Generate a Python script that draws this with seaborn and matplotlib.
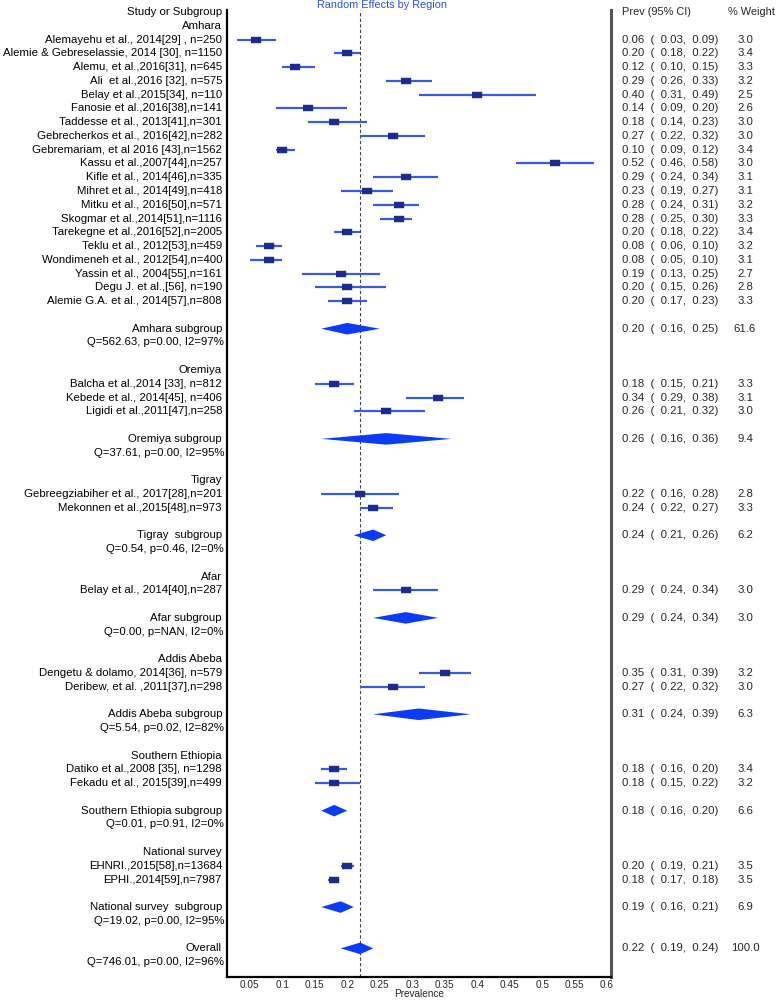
import numpy as np
import pandas as pd
import seaborn as sns
import matplotlib
matplotlib.use("Agg")
from matplotlib import pyplot as plt
from matplotlib import transforms

# ---- data ----
regions = ["Amhara", "Oremiya", "Tigray", "Afar", "Addis Abeba",
           "Southern Ethiopia", "National survey"]

study_region = (["Amhara"] * 20 + ["Oremiya"] * 3 + ["Tigray"] * 2 + ["Afar"]
                + ["Addis Abeba"] * 2 + ["Southern Ethiopia"] * 2 + ["National survey"] * 2)
study_label = [
    "Alemayehu et al., 2014[29] , n=250",
    "Alemie & Gebreselassie, 2014 [30], n=1150",
    "Alemu, et al.,2016[31], n=645",
    "Ali  et al.,2016 [32], n=575",
    "Belay et al.,2015[34], n=110",
    "Fanosie et al.,2016[38],n=141",
    "Taddesse et al., 2013[41],n=301",
    "Gebrecherkos et al., 2016[42],n=282",
    "Gebremariam, et al 2016 [43],n=1562",
    "Kassu et al.,2007[44],n=257",
    "Kifle et al., 2014[46],n=335",
    "Mihret et al., 2014[49],n=418",
    "Mitku et al., 2016[50],n=571",
    "Skogmar et al.,2014[51],n=1116",
    "Tarekegne et al.,2016[52],n=2005",
    "Teklu et al., 2012[53],n=459",
    "Wondimeneh et al., 2012[54],n=400",
    "Yassin et al., 2004[55],n=161",
    "Degu J. et al.,[56], n=190",
    "Alemie G.A. et al., 2014[57],n=808",
    "Balcha et al.,2014 [33], n=812",
    "Kebede et al., 2014[45], n=406",
    "Ligidi et al.,2011[47],n=258",
    "Gebreegziabiher et al., 2017[28],n=201",
    "Mekonnen et al.,2015[48],n=973",
    "Belay et al., 2014[40],n=287",
    "Dengetu & dolamo, 2014[36], n=579",
    "Deribew, et al. ,2011[37],n=298",
    "Datiko et al.,2008 [35], n=1298",
    "Fekadu et al., 2015[39],n=499",
    "EHNRI.,2015[58],n=13684",
    "EPHI.,2014[59],n=7987",
]
study_prev = [0.06, 0.20, 0.12, 0.29, 0.40, 0.14, 0.18, 0.27, 0.10, 0.52,
              0.29, 0.23, 0.28, 0.28, 0.20, 0.08, 0.08, 0.19, 0.20, 0.20,
              0.18, 0.34, 0.26, 0.22, 0.24, 0.29, 0.35, 0.27, 0.18, 0.18,
              0.20, 0.18]
study_lo = [0.03, 0.18, 0.10, 0.26, 0.31, 0.09, 0.14, 0.22, 0.09, 0.46,
            0.24, 0.19, 0.24, 0.25, 0.18, 0.06, 0.05, 0.13, 0.15, 0.17,
            0.15, 0.29, 0.21, 0.16, 0.22, 0.24, 0.31, 0.22, 0.16, 0.15,
            0.19, 0.17]
study_hi = [0.09, 0.22, 0.15, 0.33, 0.49, 0.20, 0.23, 0.32, 0.12, 0.58,
            0.34, 0.27, 0.31, 0.30, 0.22, 0.10, 0.10, 0.25, 0.26, 0.23,
            0.21, 0.38, 0.32, 0.28, 0.27, 0.34, 0.39, 0.32, 0.20, 0.22,
            0.21, 0.18]
study_weight = [3.0, 3.4, 3.3, 3.2, 2.5, 2.6, 3.0, 3.0, 3.4, 3.0,
                3.1, 3.1, 3.2, 3.3, 3.4, 3.2, 3.1, 2.7, 2.8, 3.3,
                3.3, 3.1, 3.0, 2.8, 3.3, 3.0, 3.2, 3.0, 3.4, 3.2,
                3.5, 3.5]

sub_label = ["Amhara subgroup", "Oremiya subgroup", "Tigray  subgroup", "Afar subgroup",
             "Addis Abeba subgroup", "Southern Ethiopia subgroup", "National survey  subgroup"]
sub_prev = [0.20, 0.26, 0.24, 0.29, 0.31, 0.18, 0.19]
sub_lo = [0.16, 0.16, 0.21, 0.24, 0.24, 0.16, 0.16]
sub_hi = [0.25, 0.36, 0.26, 0.34, 0.39, 0.20, 0.21]
sub_weight = [61.6, 9.4, 6.2, 3.0, 6.3, 6.6, 6.9]
sub_het = ["Q=562.63, p=0.00, I2=97%", "Q=37.61, p=0.00, I2=95%", "Q=0.54, p=0.46, I2=0%",
           "Q=0.00, p=NAN, I2=0%", "Q=5.54, p=0.02, I2=82%", "Q=0.01, p=0.91, I2=0%",
           "Q=19.02, p=0.00, I2=95%"]

overall_label = "Overall"
overall_prev, overall_lo, overall_hi, overall_weight = 0.22, 0.19, 0.24, 100.0
overall_het = "Q=746.01, p=0.00, I2=96%"

xticks = [0.05, 0.1, 0.15, 0.2, 0.25, 0.3, 0.35, 0.4, 0.45, 0.5, 0.55, 0.6]

# ---- build the row layout ----
studies = pd.DataFrame({"region": study_region, "label": study_label, "prev": study_prev,
                        "lo": study_lo, "hi": study_hi, "weight": study_weight})
rows = []  # (kind, label, prev, lo, hi, weight)
rows.append(("header", "Study or Subgroup", None, None, None, None))
for i, reg in enumerate(regions):
    rows.append(("region", reg, None, None, None, None))
    for _, s in studies[studies.region == reg].iterrows():
        rows.append(("study", s.label, s.prev, s.lo, s.hi, s.weight))
    rows.append(("blank", "", None, None, None, None))
    rows.append(("sub", sub_label[i], sub_prev[i], sub_lo[i], sub_hi[i], sub_weight[i]))
    rows.append(("het", sub_het[i], None, None, None, None))
    rows.append(("blank", "", None, None, None, None))
rows.append(("sub", overall_label, overall_prev, overall_lo, overall_hi, overall_weight))
rows.append(("het", overall_het, None, None, None, None))
df = pd.DataFrame(rows, columns=["kind", "label", "prev", "lo", "hi", "weight"])
df["row"] = np.arange(len(df))

sns.set_style("white")
plt.rcParams["font.family"] = ["Liberation Sans", "DejaVu Sans"]

W, H = 778, 1000
fig = plt.figure(figsize=(W / 100, H / 100), dpi=100)
row_px = 13.77
top_px, first_px, bot_px = 10, 12, 977
ax = fig.add_axes([227 / W, 1 - bot_px / H, (611 - 227) / W, (bot_px - top_px) / H])
ax.set_ylim((bot_px - first_px) / row_px, (top_px - first_px) / row_px)
ax.set_xlim(0.015, 0.606)

st = df[df.kind == "study"]
ax.hlines(st["row"], st["lo"], st["hi"], color="#3d5ad8", lw=1.6, zorder=2)
rect = [(-1.5, -1), (1.5, -1), (1.5, 1), (-1.5, 1)]
sns.scatterplot(data=st, x="prev", y="row", marker=rect, s=48, color="#1c2b8c",
                edgecolor="#1c2b8c", linewidth=0.3, ax=ax, zorder=3, legend=False)

dh = 0.42
for _, r in df[df.kind == "sub"].iterrows():
    ax.fill([r.lo, r.prev, r.hi, r.prev], [r.row, r.row - dh, r.row, r.row + dh],
            color="#0b3bf5", lw=0, zorder=3)

ax.axvline(overall_prev, color="#444444", lw=0.8, ls=(0, (3, 2)), zorder=1)

# text columns
lt = transforms.blended_transform_factory(fig.transFigure, ax.transData)
fs = 8.2
for _, r in df.iterrows():
    if r.kind == "blank":
        continue
    xr = 224 / W if r.kind == "het" else 222 / W
    ax.text(xr, r.row, r.label, transform=lt, ha="right", va="center", fontsize=fs,
            color="black", clip_on=False)
    if r.kind in ("study", "sub"):
        ax.text(622 / W, r.row, f"{r.prev:.2f}  (  {r.lo:.2f},  {r.hi:.2f})", transform=lt,
                ha="left", va="center", fontsize=fs, clip_on=False)
        ax.text(745 / W, r.row, f"{r.weight:.1f}", transform=lt, ha="center",
                va="center", fontsize=fs, clip_on=False)
ax.text(622 / W, 0, "Prev (95% CI)", transform=lt, ha="left", va="center", fontsize=7.9)
ax.text(728 / W, 0, "% Weight", transform=lt, ha="left", va="center", fontsize=7.9)

fig.text(382 / W, 1.0, "Random Effects by Region", color="#2f50dc", fontsize=7.8,
         ha="center", va="top")

ax.set_xticks(xticks)
ax.set_xticklabels([f"{t:g}" for t in xticks])
ax.tick_params(axis="x", length=0, pad=2, labelsize=7.2)
ax.set_yticks([])
ax.set_xlabel("Prevalence", fontsize=7.2, labelpad=-0.5)
ax.set_ylabel("")

for side in ["left", "bottom"]:
    ax.spines[side].set_color("black")
    ax.spines[side].set_linewidth(1.6)
ax.spines["right"].set_color("#555555")
ax.spines["right"].set_linewidth(2.2)
ax.spines["top"].set_visible(False)

fig.savefig("out.png", dpi=100, facecolor="white")
